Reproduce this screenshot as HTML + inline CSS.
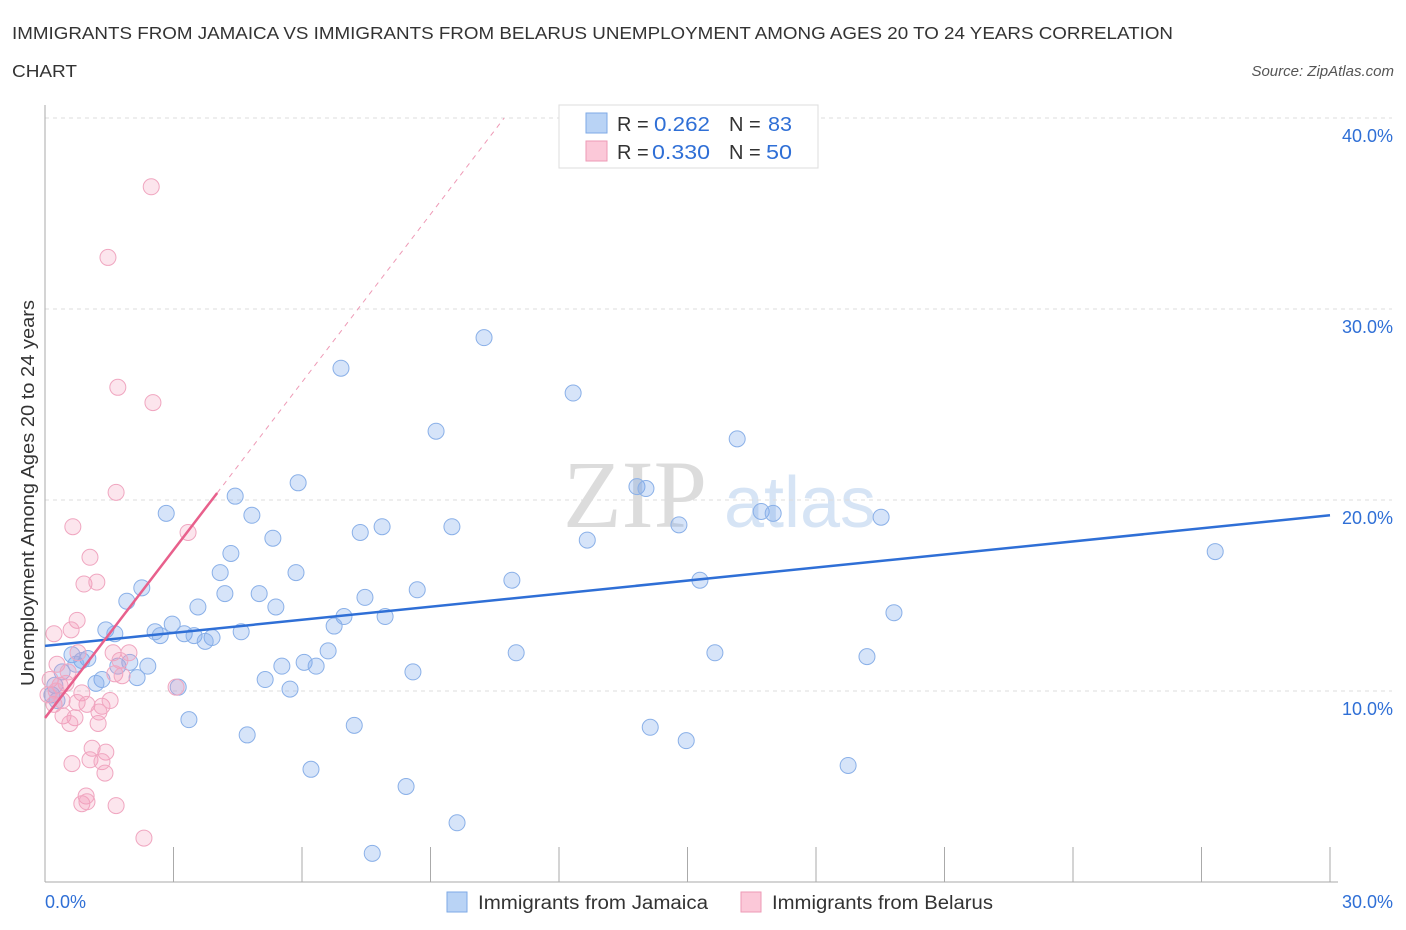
<!DOCTYPE html>
<html><head><meta charset="utf-8">
<style>
body{margin:0;background:#fff;font-family:"Liberation Sans",sans-serif;}
svg{display:block}
</style></head>
<body>
<svg id="chart" width="1406" height="930" xmlns="http://www.w3.org/2000/svg">
<text x="12" y="39" font-size="17.5" fill="#333" textLength="1161" lengthAdjust="spacingAndGlyphs">IMMIGRANTS FROM JAMAICA VS IMMIGRANTS FROM BELARUS UNEMPLOYMENT AMONG AGES 20 TO 24 YEARS CORRELATION</text>
<text x="12" y="77" font-size="17.5" fill="#333" textLength="65" lengthAdjust="spacingAndGlyphs">CHART</text>
<text x="1394" y="76" font-size="15" fill="#555" font-style="italic" text-anchor="end">Source: ZipAtlas.com</text>
<text x="635" y="527" font-size="96" fill="#dcdcdc" font-family="Liberation Serif,serif" text-anchor="middle">ZIP</text>
<text x="800" y="527" font-size="72" fill="#d6e4f5" text-anchor="middle">atlas</text>
<g id="grid"></g>
<g id="axes"></g>
<g id="marks"></g>
<text transform="translate(34,493) rotate(-90)" font-size="18" fill="#333" text-anchor="middle" textLength="386" lengthAdjust="spacingAndGlyphs">Unemployment Among Ages 20 to 24 years</text>
<g>
<rect x="559" y="105" width="259" height="63" fill="#fff" stroke="#ddd"/>
<rect x="586" y="113" width="21" height="20" fill="#b9d3f5" stroke="#7ea9e6"/>
<rect x="586" y="141" width="21" height="20" fill="#fbc8d8" stroke="#ee9ab6"/>
<text x="617" y="131" font-size="20" fill="#333">R = </text>
<text x="654" y="131" font-size="20" fill="#2f6fd6" textLength="56" lengthAdjust="spacingAndGlyphs">0.262</text>
<text x="729" y="131" font-size="20" fill="#333">N = </text>
<text x="768" y="131" font-size="20" fill="#2f6fd6" textLength="24" lengthAdjust="spacingAndGlyphs">83</text>
<text x="617" y="159" font-size="20" fill="#333">R = </text>
<text x="652" y="159" font-size="20" fill="#2f6fd6" textLength="58" lengthAdjust="spacingAndGlyphs">0.330</text>
<text x="729" y="159" font-size="20" fill="#333">N = </text>
<text x="766" y="159" font-size="20" fill="#2f6fd6" textLength="26" lengthAdjust="spacingAndGlyphs">50</text>
</g>
<g>
<rect x="447" y="892" width="20" height="20" fill="#b9d3f5" stroke="#7ea9e6"/>
<text x="478" y="909" font-size="19" fill="#333" textLength="230" lengthAdjust="spacingAndGlyphs">Immigrants from Jamaica</text>
<rect x="741" y="892" width="20" height="20" fill="#fbc8d8" stroke="#ee9ab6"/>
<text x="772" y="909" font-size="19" fill="#333" textLength="221" lengthAdjust="spacingAndGlyphs">Immigrants from Belarus</text>
</g>
</svg>
<script>
const yTicks=[10,20,30,40];
const yTickLabels=["10.0%","20.0%","30.0%","40.0%"];
const xTicks=[0,3,6,9,12,15,18,21,24,27,30];
const jamaicaX=[10.25,6.91,12.33,9.13,16.16,5.91,4.44,13.82,14.03,2.83,4.83,16.72,17.0,19.52,7.87,9.5,7.36,14.8,5.32,12.66,27.32,4.34,4.09,5.86,10.9,15.29,2.26,8.69,4.2,5.0,7.47,1.91,3.57,5.39,19.82,6.98,7.94,2.97,6.75,1.42,4.58,2.57,1.63,2.69,3.25,3.48,3.9,3.74,11.0,6.61,15.64,0.63,1.0,0.86,19.19,6.05,1.98,0.72,2.4,1.7,5.53,6.33,8.59,2.15,5.14,1.33,1.19,3.11,5.72,0.23,0.16,3.36,7.22,14.13,4.72,14.97,18.75,6.21,8.43,9.62,7.64,0.4,0.28];
const jamaicaY=[28.5,26.9,25.6,23.6,23.2,20.9,20.2,20.7,20.6,19.3,19.2,19.4,19.3,19.1,18.6,18.6,18.3,18.7,18.0,17.9,17.3,17.2,16.2,16.2,15.8,15.8,15.4,15.3,15.1,15.1,14.9,14.7,14.4,14.4,14.1,13.9,13.9,13.5,13.4,13.2,13.1,13.1,13.0,12.9,13.0,12.9,12.8,12.6,12.0,12.1,12.0,11.9,11.7,11.6,11.8,11.5,11.5,11.4,11.3,11.3,11.3,11.3,11.0,10.7,10.6,10.6,10.4,10.2,10.1,10.3,9.8,8.5,8.2,8.1,7.7,7.4,6.1,5.9,5.0,3.1,1.5,11.0,9.5];
const belarusX=[2.48,1.47,1.7,2.52,1.66,3.34,0.65,1.05,0.91,1.21,0.75,0.61,0.21,1.59,1.96,0.77,0.28,0.54,1.63,1.8,0.12,0.35,3.06,0.86,0.21,0.98,1.33,1.26,0.42,0.7,0.58,1.24,1.1,1.42,1.05,1.33,0.63,1.4,0.96,0.86,0.98,1.66,2.31,0.07,0.4,0.49,0.26,1.75,1.52,0.75];
const belarusY=[36.4,32.7,25.9,25.1,20.4,18.3,18.6,17.0,15.6,15.7,13.7,13.2,13.0,12.0,12.0,12.0,11.4,11.0,10.9,10.8,10.6,10.3,10.2,9.9,9.3,9.3,9.2,8.9,8.7,8.6,8.3,8.3,7.0,6.8,6.4,6.3,6.2,5.7,4.5,4.1,4.2,4.0,2.3,9.8,9.5,10.4,10.0,11.6,9.5,9.4];
const jamaicaTrend=[12.36,0.228];
const belarusTrend=[8.59,2.93];
const X0=45,X1=1330,Y0=882,PERY=19.1;
const xs=v=>X0+(v/30)*(X1-X0);
const ys=v=>Y0-v*PERY;
const NS="http://www.w3.org/2000/svg";
function mk(tag,attrs,parent){const e=document.createElementNS(NS,tag);for(const k in attrs)e.setAttribute(k,attrs[k]);parent.appendChild(e);return e;}
const grid=document.getElementById('grid'),axes=document.getElementById('axes'),marks=document.getElementById('marks');
yTicks.forEach((t,i)=>{
 const g=mk('line',{x1:X0,x2:1392,y1:ys(t),y2:ys(t),stroke:'#ddd','stroke-dasharray':'4,4'},grid);
 
 
 const l=mk('text',{x:1393,y:ys(t)+24,'font-size':18,fill:'#2f6fd6','text-anchor':'end'},axes);
 l.textContent=yTickLabels[i];
 
 
});
const ya=mk('line',{x1:X0,x2:X0,y1:105,y2:Y0,stroke:'#aaa'},axes);


const xa=mk('line',{x1:X0,x2:X1+8,y1:Y0,y2:Y0,stroke:'#aaa'},axes);


xTicks.forEach(t=>{
 const k=mk('line',{x1:xs(t),x2:xs(t),y1:Y0-35,y2:Y0,stroke:'#aaa'},axes);
 
 
});
const xl0=mk('text',{x:45,y:908,'font-size':18,fill:'#2f6fd6'},axes);xl0.textContent='0.0%';


const xl1=mk('text',{x:1393,y:908,'font-size':18,fill:'#2f6fd6','text-anchor':'end'},axes);xl1.textContent='30.0%';


function pts(X,Y,fill,stroke,name){X.forEach((x,i)=>{
 const c=mk('circle',{cx:xs(x),cy:ys(Y[i]),r:8,fill:fill,stroke:stroke,'stroke-width':1},marks);
 
 
});}
pts(jamaicaX,jamaicaY,'rgba(120,165,235,0.3)','#8ab0e8','jamaica-point');
pts(belarusX,belarusY,'rgba(245,150,185,0.25)','#f0a6c0','belarus-point');
const bl=mk('line',{x1:xs(0),y1:ys(jamaicaTrend[0]),x2:xs(30),y2:ys(jamaicaTrend[0]+jamaicaTrend[1]*30),stroke:'#2f6fd6','stroke-width':2.5},marks);


const xEndB=(40-belarusTrend[0])/belarusTrend[1];
const pd=mk('line',{x1:xs(4.02),y1:ys(belarusTrend[0]+belarusTrend[1]*4.02),x2:xs(xEndB),y2:ys(40),stroke:'#ee9ab6','stroke-width':1,'stroke-dasharray':'5,5'},marks);


const pl=mk('line',{x1:xs(0),y1:ys(belarusTrend[0]),x2:xs(4.02),y2:ys(belarusTrend[0]+belarusTrend[1]*4.02),stroke:'#e8608c','stroke-width':2.5},marks);


</script>
</body></html>
